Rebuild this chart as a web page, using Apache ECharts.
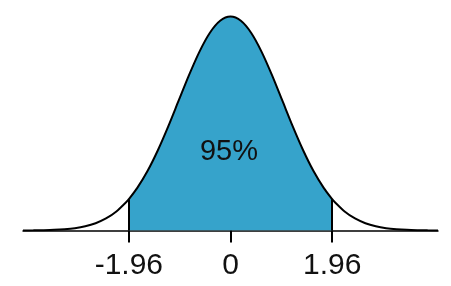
<!DOCTYPE html>
<html>
<head>
<meta charset="utf-8">
<style>html,body{margin:0;padding:0;background:#fff;}#c{width:451px;height:286px;}</style>
<script src="https://cdn.jsdelivr.net/npm/echarts@6/dist/echarts.min.js"></script>
</head>
<body>
<div id="c"></div>
<script>
// z values (x axis) and density
const xs = [-4.0,-3.8,-3.6,-3.4,-3.2,-3.0,-2.8,-2.6,-2.4,-2.2,-2.0,-1.96,-1.8,-1.6,-1.4,-1.2,-1.0,-0.8,-0.6,-0.4,-0.2,0.0,0.2,0.4,0.6,0.8,1.0,1.2,1.4,1.6,1.8,1.96,2.0,2.2,2.4,2.6,2.8,3.0,3.2,3.4,3.6,3.8,4.0];
const ys = [0.0001,0.0003,0.0006,0.0012,0.0024,0.0044,0.0079,0.0136,0.0224,0.0355,0.0540,0.0584,0.0790,0.1109,0.1497,0.1942,0.2420,0.2897,0.3332,0.3683,0.3910,0.3989,0.3910,0.3683,0.3332,0.2897,0.2420,0.1942,0.1497,0.1109,0.0790,0.0584,0.0540,0.0355,0.0224,0.0136,0.0079,0.0044,0.0024,0.0012,0.0006,0.0003,0.0001];
const critLow = -1.96, critHigh = 1.96;
const tickValues = [-1.96, 0, 1.96];
const tickLabels = ['-1.96', '0', '1.96'];
const centerLabel = '95%';

const curve = xs.map((x, i) => [x, ys[i]]);
const shaded = curve.filter(p => p[0] >= critLow && p[0] <= critHigh);
const yLow = ys[xs.indexOf(critLow)], yHigh = ys[xs.indexOf(critHigh)];

const chart = echarts.init(document.getElementById('c'), null, {renderer: 'canvas'});
chart.setOption({
  animation: false,
  grid: {left: 23, right: 13, top: 16, bottom: 55.5},
  xAxis: {
    type: 'value', min: -4, max: 4,
    splitLine: {show: false},
    axisLine: {show: true, onZero: false, lineStyle: {color: '#000', width: 1.5}},
    axisTick: {show: true, length: 12, lineStyle: {color: '#000', width: 2}, customValues: tickValues},
    axisLabel: {
      show: true, customValues: tickValues, margin: 20,
      fontFamily: 'Liberation Sans, Arial, sans-serif', fontSize: 30, color: '#111',
      formatter: v => tickLabels[tickValues.indexOf(v)] ?? ''
    }
  },
  yAxis: {type: 'value', min: 0, max: 0.4, show: false},
  series: [
    {
      type: 'line', data: shaded, smooth: 0.3, symbol: 'none',
      lineStyle: {width: 0}, areaStyle: {color: '#36A3CB', opacity: 1}, z: 1
    },
    {
      type: 'line', data: curve, smooth: 0.3, symbol: 'none',
      lineStyle: {color: '#000', width: 2}, z: 3,
      markLine: {
        silent: true, symbol: 'none', label: {show: false},
        lineStyle: {color: '#000', width: 2, type: 'solid'},
        data: [
          [{coord: [critLow, 0]}, {coord: [critLow, yLow]}],
          [{coord: [critHigh, 0]}, {coord: [critHigh, yHigh]}]
        ]
      }
    }
  ],
  graphic: [{
    type: 'text', x: 229, y: 152,
    style: {text: centerLabel, fontFamily: 'Liberation Sans, Arial, sans-serif', fontSize: 29, fill: '#111', align: 'center', verticalAlign: 'middle'},
    z: 10
  }]
});
</script>
</body>
</html>
